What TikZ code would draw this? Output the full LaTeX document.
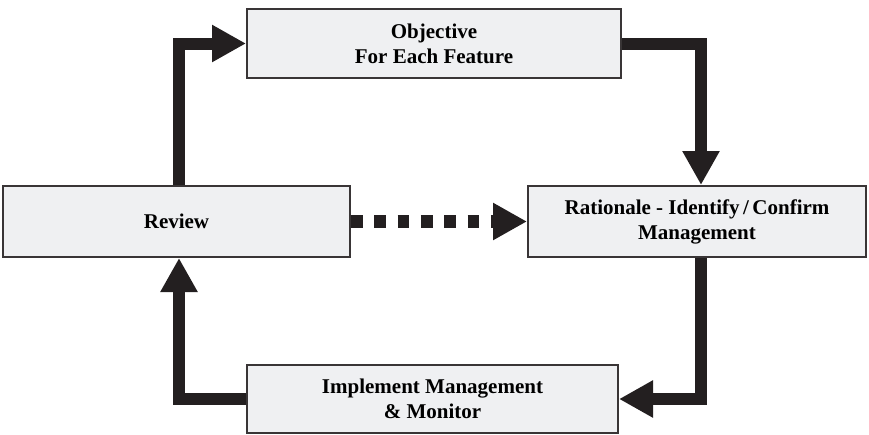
\documentclass[tikz,border=0pt]{standalone}
\usepackage{fontspec}
\setmainfont{Liberation Serif}
\usetikzlibrary{arrows.meta}
\definecolor{boxfill}{RGB}{239,240,242}
\definecolor{ink}{RGB}{35,31,32}
\tikzstyle{box}=[draw=ink!90, line width=2pt, fill=boxfill, inner sep=0pt, align=center, font=\bfseries\fontsize{21}{25}\selectfont]
\tikzstyle{flow}=[draw=ink, line width=12pt, -{Triangle[length=34pt, width=35pt]}]
\tikzstyle{dflow}=[flow, line width=13pt, dash pattern=on 11.7pt off 11.6pt]

\begin{document}
\begin{tikzpicture}[x=1pt, y=-1pt]
        \useasboundingbox (0, 0) rectangle (869, 434);
        \node[box, minimum width=374pt, minimum height=69pt] (obj) at (434, 43.5) {Objective\\For Each Feature};
        \node[box, minimum width=347pt, minimum height=71pt] (review) at (176.5, 221.5) {Review};
        \node[box, minimum width=338pt, minimum height=71pt] (rationale) at (697, 221.5) {Rationale - Identify\,/\,Confirm\\Management};
        \node[box, minimum width=371pt, minimum height=68pt] (impl) at (432.5, 399) {Implement Management\\\& Monitor};
        \draw[flow] ([xshift=2.5pt]review.north) |- (obj.west);
        \draw[flow] (obj.east) -| ([xshift=4pt]rationale.north);
        \draw[flow] ([xshift=4pt]rationale.south) |- (impl.east);
        \draw[flow] (impl.west) -| ([xshift=2.5pt]review.south);
        \draw[dflow] (review.east) -- (rationale.west);
    \end{tikzpicture}
\end{document}
